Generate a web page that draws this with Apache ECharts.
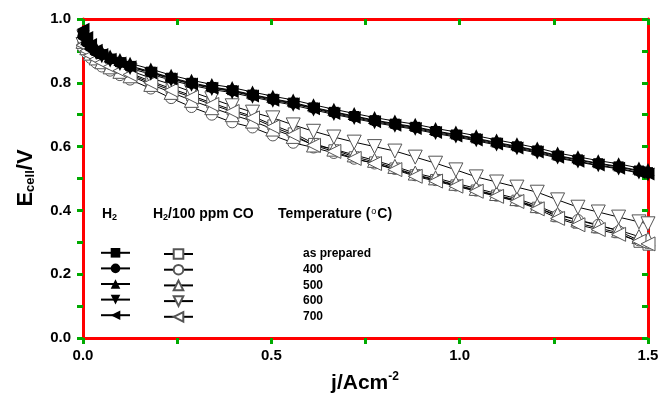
<!DOCTYPE html>
<html><head><meta charset="utf-8">
<script src="https://cdn.jsdelivr.net/npm/echarts@6/dist/echarts.min.js"></script>
<style>html,body{margin:0;padding:0;background:#fff}#c{width:662px;height:399px}</style>
</head><body><div id="c"></div>
<script>
// current density, A/cm2
var j = [0,0.01,0.02,0.035,0.05,0.072,0.098,0.125,0.18,0.234,0.288,0.342,0.396,0.45,0.504,0.558,0.612,0.666,0.72,0.774,0.828,0.882,0.936,0.99,1.044,1.098,1.152,1.206,1.26,1.314,1.368,1.422,1.476,1.5];
// H2 (filled)
var h2Prepared = [0.952,0.93,0.915,0.9,0.89,0.876,0.865,0.853,0.835,0.816,0.8,0.787,0.777,0.763,0.75,0.738,0.723,0.709,0.696,0.683,0.672,0.662,0.649,0.638,0.626,0.613,0.601,0.588,0.572,0.56,0.548,0.538,0.525,0.52];
var h2T400 = [0.948,0.927,0.912,0.898,0.888,0.874,0.863,0.851,0.833,0.814,0.798,0.785,0.775,0.761,0.748,0.736,0.721,0.707,0.694,0.681,0.67,0.66,0.647,0.636,0.624,0.611,0.599,0.586,0.57,0.558,0.546,0.536,0.523,0.518];
var h2T500 = [0.96,0.938,0.923,0.908,0.898,0.884,0.873,0.861,0.843,0.824,0.808,0.795,0.785,0.771,0.758,0.746,0.731,0.717,0.704,0.691,0.68,0.67,0.657,0.646,0.634,0.621,0.609,0.596,0.58,0.568,0.556,0.546,0.533,0.528];
var h2T600 = [0.944,0.922,0.907,0.892,0.882,0.868,0.857,0.845,0.827,0.808,0.792,0.779,0.769,0.755,0.742,0.73,0.715,0.701,0.688,0.675,0.664,0.654,0.641,0.63,0.618,0.605,0.593,0.58,0.564,0.552,0.54,0.53,0.517,0.512];
var h2T700 = [0.968,0.942,0.92,0.902,0.889,0.874,0.862,0.85,0.831,0.812,0.796,0.783,0.773,0.759,0.745,0.734,0.719,0.704,0.691,0.678,0.667,0.657,0.644,0.633,0.621,0.608,0.596,0.583,0.567,0.554,0.542,0.532,0.519,0.514];
// H2/100 ppm CO (open)
var coPrepared = [0.925,0.905,0.89,0.878,0.868,0.855,0.842,0.83,0.805,0.782,0.76,0.737,0.715,0.695,0.668,0.643,0.61,0.59,0.568,0.552,0.533,0.512,0.497,0.48,0.464,0.448,0.432,0.41,0.38,0.36,0.345,0.33,0.3,0.291];
var coT400 = [0.91,0.893,0.878,0.863,0.851,0.838,0.824,0.81,0.782,0.752,0.724,0.7,0.676,0.66,0.635,0.612,0.597,0.58,0.562,0.547,0.53,0.51,0.495,0.478,0.462,0.446,0.43,0.408,0.385,0.37,0.355,0.335,0.306,0.298];
var coT500 = [0.93,0.91,0.893,0.878,0.866,0.85,0.836,0.822,0.795,0.77,0.745,0.722,0.7,0.68,0.655,0.632,0.605,0.592,0.574,0.557,0.538,0.517,0.502,0.485,0.469,0.453,0.437,0.415,0.388,0.37,0.352,0.338,0.318,0.31];
var coT600 = [0.92,0.905,0.895,0.885,0.875,0.862,0.85,0.838,0.815,0.795,0.772,0.75,0.728,0.708,0.69,0.668,0.648,0.63,0.614,0.6,0.586,0.567,0.548,0.527,0.505,0.489,0.473,0.457,0.433,0.41,0.395,0.379,0.364,0.358];
var coT700 = [0.918,0.9,0.886,0.874,0.864,0.851,0.838,0.826,0.8,0.777,0.755,0.732,0.71,0.69,0.662,0.637,0.604,0.585,0.563,0.547,0.528,0.507,0.492,0.476,0.46,0.444,0.428,0.405,0.375,0.355,0.34,0.325,0.303,0.295];

var tempLabels = ['as prepared','400','500','600','700'];
var symbols = ['rect','circle','triangle','triangle','triangle'];
var rotations = [0,0,0,180,90];
var h2Sizes = [10,11,13,13,13];
var coSizes = [10,11,14,14,14];
var h2Data = [h2Prepared,h2T400,h2T500,h2T600,h2T700];
var coData = [coPrepared,coT400,coT500,coT600,coT700];

var FONT = 'Arial, "Liberation Sans", sans-serif';
function pairs(arr){ return arr.map(function(v,i){ return [j[i], v]; }); }

var series = [];
var coNames = [], h2Names = [];
coData.forEach(function(d,k){
  var name = 'CO ' + tempLabels[k]; coNames.push(name);
  series.push({name:name,type:'line',xAxisIndex:0,yAxisIndex:0,data:pairs(d),symbol:symbols[k],symbolRotate:rotations[k],symbolSize:coSizes[k],
    lineStyle:{color:'#000',width:1},itemStyle:{color:'#fff',borderColor:'#555',borderWidth:1}});
});
h2Data.forEach(function(d,k){
  var name = 'H2 ' + tempLabels[k]; h2Names.push(name);
  series.push({name:name,type:'line',xAxisIndex:0,yAxisIndex:0,data:pairs(d),symbol:symbols[k],symbolRotate:rotations[k],symbolSize:h2Sizes[k],
    lineStyle:{color:'#000',width:1},itemStyle:{color:'#000',borderColor:'#000',borderWidth:0}});
});

function ax(pos, min, max, interval, opts){
  return {type:'value',position:pos,min:min,max:max,interval:interval,
    axisLine:{show:opts.line,onZero:false,lineStyle:{color:'#f00',width:3}},
    axisTick:{show:true,inside:opts.inside,length:6,lineStyle:{color:'#0a0',width:3}},
    axisLabel:opts.label ? {show:true,margin:opts.margin,formatter:function(v){return v.toFixed(1);},fontFamily:FONT,fontWeight:'bold',fontSize:15,color:'#000'} : {show:false},
    splitLine:{show:false}};
}
var chart = echarts.init(document.getElementById('c'));
chart.setOption({
  animation:false,
  grid:{left:83,right:14,top:19,bottom:61},
  xAxis:[ax('bottom',0,1.5,0.5,{line:true,inside:false,label:true,margin:10}),
         ax('bottom',0,1.5,0.25,{line:false,inside:false,label:false}),
         ax('top',0,1.5,0.25,{line:true,inside:true,label:false})],
  yAxis:[ax('left',0,1,0.2,{line:true,inside:false,label:true,margin:12}),
         ax('left',0,1,0.1,{line:false,inside:false,label:false}),
         ax('right',0,1,0.1,{line:true,inside:true,label:false})],
  legend:[
    {data:h2Names,orient:'vertical',left:95,top:243,itemWidth:29,itemHeight:12,itemGap:6,
      formatter:function(){return '';},textStyle:{fontSize:12,lineHeight:12},selectedMode:false},
    {data:coNames,orient:'vertical',left:158,top:243,itemWidth:29,itemHeight:12,itemGap:3.7,selectedMode:false,
      formatter:function(n){return n.replace('CO ','');},
      textStyle:{fontFamily:FONT,fontWeight:'bold',fontSize:12,lineHeight:12,color:'#000',padding:[0,0,0,105]}}
  ],
  graphic:[
    {type:'text',x:365,y:383,style:{text:'{a|j/Acm}{b|-2}',align:'center',verticalAlign:'middle',
      rich:{a:{fontFamily:FONT,fontWeight:'bold',fontSize:21,fill:'#000'},b:{fontFamily:FONT,fontWeight:'bold',fontSize:12,fill:'#000',padding:[0,0,12,0]}}}},
    {type:'text',x:26,y:178,rotation:Math.PI/2,style:{text:'{a|E}{b|cell}{a|/V}',align:'center',verticalAlign:'middle',
      rich:{a:{fontFamily:FONT,fontWeight:'bold',fontSize:22,fill:'#000'},b:{fontFamily:FONT,fontWeight:'bold',fontSize:13,fill:'#000',padding:[9,0,0,0]}}}},
    {type:'text',left:102,top:207,style:{text:'{a|H}{b|2}',rich:{a:{fontFamily:FONT,fontWeight:'bold',fontSize:14,fill:'#000'},b:{fontFamily:FONT,fontWeight:'bold',fontSize:9,fill:'#000',padding:[7,0,0,0]}}}},
    {type:'text',left:153,top:207,style:{text:'{a|H}{b|2}{a|/100 ppm CO}',rich:{a:{fontFamily:FONT,fontWeight:'bold',fontSize:14,fill:'#000'},b:{fontFamily:FONT,fontWeight:'bold',fontSize:9,fill:'#000',padding:[7,0,0,0]}}}},
    {type:'text',left:278,top:207,style:{text:'{a|Temperature (}{b|o}{a|C)}',rich:{a:{fontFamily:FONT,fontWeight:'bold',fontSize:14,fill:'#000'},b:{fontFamily:FONT,fontSize:9,fill:'#000',padding:[0,1,4,1]}}}}
  ],
  series:series
});
</script></body></html>
